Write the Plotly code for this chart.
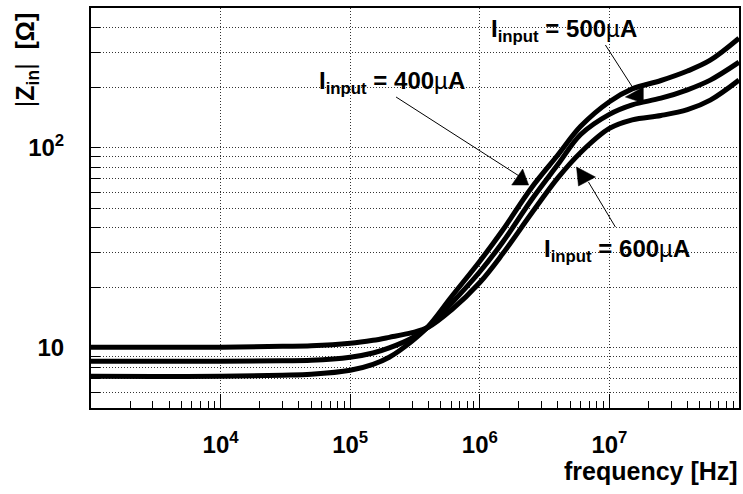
import plotly.graph_objects as go

# Input impedance |Z_in| versus frequency for three input bias currents
freq_hz = [1e3, 1e4, 3e4, 5e4, 1e5, 1.5e5, 2e5, 3e5, 4e5, 6e5, 1e6, 1.5e6,
           2.5e6, 4e6, 6e6, 1e7, 1.5e7, 2.5e7, 4e7, 6e7, 1e8]

z_400uA = [7.2, 7.2, 7.29, 7.37, 7.72, 8.27, 8.97, 10.8, 12.8, 17.9, 27.1, 38.7,
           63.0, 92.0, 128.0, 170.0, 197.0, 217.0, 242.0, 274.0, 353.0]
z_500uA = [8.56, 8.56, 8.62, 8.66, 8.97, 9.42, 9.99, 11.2, 12.7, 16.6, 24.0, 33.7,
           54.8, 82.4, 116.5, 147.0, 164.0, 177.0, 195.0, 218.0, 268.0]
z_600uA = [10.06, 10.06, 10.17, 10.23, 10.53, 10.9, 11.28, 11.9, 12.66, 15.4, 21.2, 29.5,
           46.9, 70.7, 94.8, 125.0, 138.0, 145.0, 155.0, 173.0, 218.0]

x_tickvals = [1e4, 1e5, 1e6, 1e7]
x_ticktext = ["10<sup>4</sup>", "10<sup>5</sup>", "10<sup>6</sup>", "10<sup>7</sup>"]
y_tickvals = [10, 100]
y_ticktext = ["10", "10<sup>2</sup>"]

FONT = "Liberation Sans, Arial, Helvetica, sans-serif"
W, H = 743, 494
L, R, T, B = 91, 2, 8, 86
PW, PH = W - L - R, H - T - B


def px(x):
    """page pixel column -> paper x"""
    return (x - L) / PW


def py(y):
    """page pixel row -> paper y"""
    return (T + PH - y) / PH


fig = go.Figure()
for z in (z_400uA, z_500uA, z_600uA):
    fig.add_trace(go.Scatter(
        x=freq_hz, y=z, mode="lines",
        line=dict(color="black", width=5, shape="spline", smoothing=1.0),
        showlegend=False, hoverinfo="skip",
    ))

grid_dash = "1px,2px"
grid_col = "#333333"

fig.update_xaxes(
    type="log", range=[3, 8],
    tickvals=x_tickvals, ticktext=x_ticktext,
    ticks="inside", ticklen=14, tickwidth=1, tickcolor="black",
    showgrid=True, gridcolor=grid_col, griddash=grid_dash, gridwidth=1,
    showline=True, linecolor="black", linewidth=2, mirror=True,
    zeroline=False,
    tickfont=dict(family=FONT, size=24, color="black", weight="bold"),
    ticklabelstandoff=14,
    minor=dict(ticks="inside", ticklen=7, tickwidth=1, tickcolor="black",
               dtick="D1", showgrid=False),
)
fig.update_yaxes(
    type="log", range=[0.69897, 2.69897],
    tickvals=y_tickvals, ticktext=y_ticktext,
    ticks="inside", ticklen=9, tickwidth=1, tickcolor="black",
    showgrid=True, gridcolor=grid_col, griddash=grid_dash, gridwidth=1,
    showline=True, linecolor="black", linewidth=2, mirror=True,
    zeroline=False,
    tickfont=dict(family=FONT, size=24, color="black", weight="bold"),
    ticklabelstandoff=20,
    minor=dict(ticks="inside", ticklen=9, tickwidth=1, tickcolor="black",
               dtick="D1", showgrid=True, gridcolor=grid_col,
               griddash=grid_dash, gridwidth=1),
)

label_font = dict(family=FONT, size=24, color="black")
mu = '<span style="font-weight:normal">µ</span>'


def current_label(value):
    return "<b>I<sub>input</sub> = " + value + mu + "A</b>"


annotations = [
    dict(text=current_label("400"), x=px(318), y=py(82)),
    dict(text=current_label("500"), x=px(490), y=py(30)),
    dict(text=current_label("600"), x=px(543), y=py(250)),
]
annotations = [dict(a, xref="paper", yref="paper", xanchor="left",
                    yanchor="middle", showarrow=False, font=label_font)
               for a in annotations]

# axis titles
annotations.append(dict(
    text="<b>frequency [Hz]</b>", xref="paper", yref="paper",
    x=px(742), y=py(471), xanchor="right", yanchor="middle",
    showarrow=False, font=dict(family=FONT, size=25, color="black"),
))
annotations.append(dict(
    text="|<b>Z<sub>in</sub></b>|  <b>[Ω]</b>", xref="paper", yref="paper",
    x=px(27), y=py(60), xanchor="center", yanchor="middle", textangle=-90,
    showarrow=False, font=dict(family=FONT, size=25, color="black"),
))

# pointer lines and their filled heads
pointer_lines = [
    ((397, 97), (522, 177)),
    ((607, 45), (636, 90)),
    ((617, 227), (590, 182)),
]
pointer_heads = [
    [(524, 169), (513, 185), (530, 185)],
    [(627, 97), (645, 87), (645, 103)],
    [(578, 167), (597, 177), (580, 186)],
]
shapes = []
for (x0, y0), (x1, y1) in pointer_lines:
    shapes.append(dict(type="line", xref="paper", yref="paper",
                       x0=px(x0), y0=py(y0), x1=px(x1), y1=py(y1),
                       line=dict(color="black", width=1)))
for tri in pointer_heads:
    path = "M " + " L ".join(f"{px(x):.5f},{py(y):.5f}" for x, y in tri) + " Z"
    shapes.append(dict(type="path", xref="paper", yref="paper", path=path,
                       fillcolor="black", line=dict(color="black", width=0.5)))

fig.update_layout(
    width=W, height=H,
    margin=dict(l=L, r=R, t=T, b=B),
    paper_bgcolor="white", plot_bgcolor="white",
    annotations=annotations, shapes=shapes,
    showlegend=False,
)

fig.write_html("out.html")
